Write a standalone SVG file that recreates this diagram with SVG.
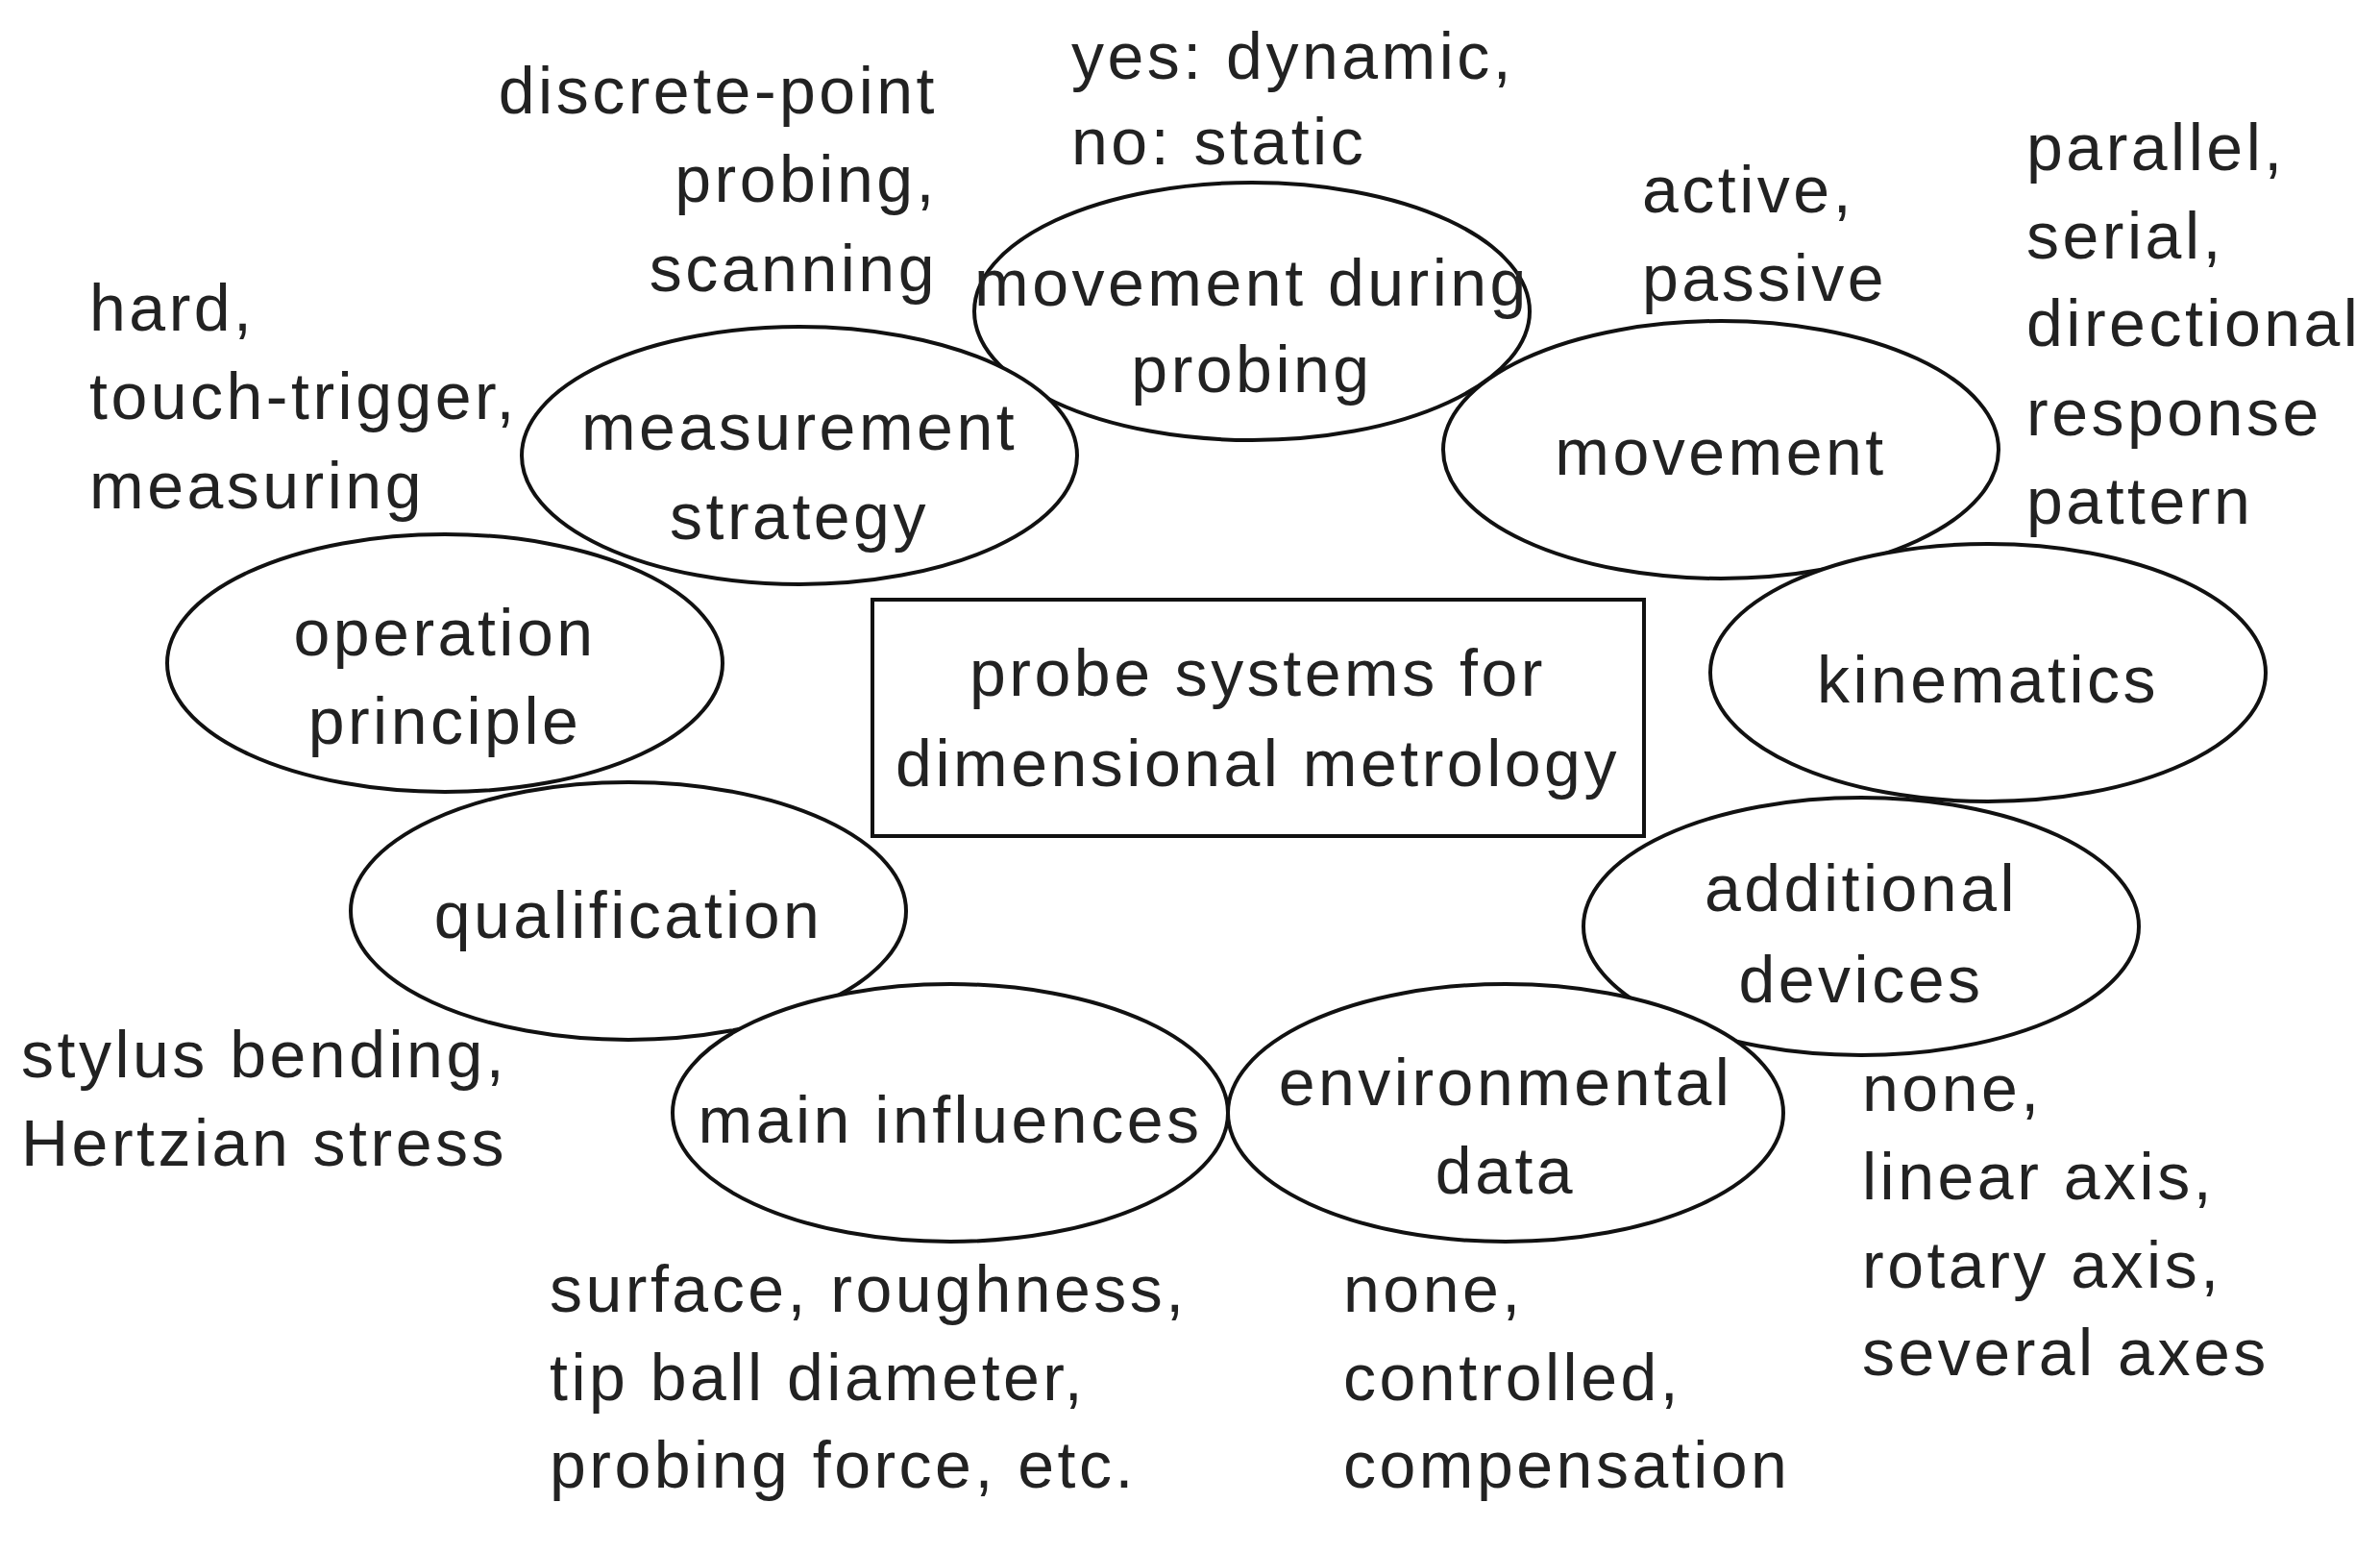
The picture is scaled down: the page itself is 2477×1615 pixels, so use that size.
<svg xmlns="http://www.w3.org/2000/svg" width="2477" height="1615" viewBox="0 0 2477 1615">
<style>
text{font-family:"Liberation Sans",Arial,sans-serif;font-size:68px;letter-spacing:3.5px;fill:#222}
.c{text-anchor:middle}
.r{text-anchor:end}
ellipse,rect{fill:#fff;stroke:#111;stroke-width:4}
</style>
<rect width="2477" height="1615" fill="#fff" style="stroke:none"/>
<g id="labels">
<text class="r" x="976" y="118">discrete-point</text><text class="r" x="976" y="210">probing,</text><text class="r" x="976" y="303">scanning</text>
<text x="1115" y="82">yes: dynamic,</text><text x="1115" y="171">no: static</text>
<text x="1709" y="221">active,</text><text x="1709" y="313">passive</text>
<text x="2109" y="177">parallel,</text><text x="2109" y="269">serial,</text><text x="2109" y="360">directional</text><text x="2109" y="453">response</text><text x="2109" y="545">pattern</text>
<text x="93" y="344">hard,</text><text x="93" y="436">touch-trigger,</text><text x="93" y="529">measuring</text>
<text x="22" y="1121">stylus bending,</text><text x="22" y="1213">Hertzian stress</text>
<text x="572" y="1365">surface, roughness,</text><text x="572" y="1457">tip ball diameter,</text><text x="572" y="1548">probing force, etc.</text>
<text x="1398" y="1365">none,</text><text x="1398" y="1457">controlled,</text><text x="1398" y="1548">compensation</text>
<text x="1938" y="1156">none,</text><text x="1938" y="1248">linear axis,</text><text x="1938" y="1340">rotary axis,</text><text x="1938" y="1431">several axes</text>
</g>
<g id="center"><rect x="908" y="624" width="803" height="246"/><text class="c" x="1309" y="724">probe systems for</text><text class="c" x="1309" y="818">dimensional metrology</text></g>
<g id="n-mdp"><ellipse cx="1303" cy="324" rx="289" ry="134"/><text class="c" x="1303" y="318">movement during</text><text class="c" x="1303" y="408">probing</text></g>
<g id="n-ms"><ellipse cx="832" cy="474" rx="289" ry="134"/><text class="c" x="832" y="468">measurement</text><text class="c" x="832" y="561">strategy</text></g>
<g id="n-mov"><ellipse cx="1791" cy="468" rx="289" ry="134"/><text class="c" x="1791" y="494">movement</text></g>
<g id="n-op"><ellipse cx="463" cy="690" rx="289" ry="134"/><text class="c" x="463" y="682">operation</text><text class="c" x="463" y="774">principle</text></g>
<g id="n-kin"><ellipse cx="2069" cy="700" rx="289" ry="134"/><text class="c" x="2069" y="731">kinematics</text></g>
<g id="n-qual"><ellipse cx="654" cy="948" rx="289" ry="134"/><text class="c" x="654" y="976">qualification</text></g>
<g id="n-add"><ellipse cx="1937" cy="964" rx="289" ry="134"/><text class="c" x="1937" y="948">additional</text><text class="c" x="1937" y="1043">devices</text></g>
<g id="n-main"><ellipse cx="989" cy="1158" rx="289" ry="134"/><text class="c" x="989" y="1189">main influences</text></g>
<g id="n-env"><ellipse cx="1567" cy="1158" rx="289" ry="134"/><text class="c" x="1567" y="1150">environmental</text><text class="c" x="1567" y="1242">data</text></g>
<g id="connectors"/>
</svg>
